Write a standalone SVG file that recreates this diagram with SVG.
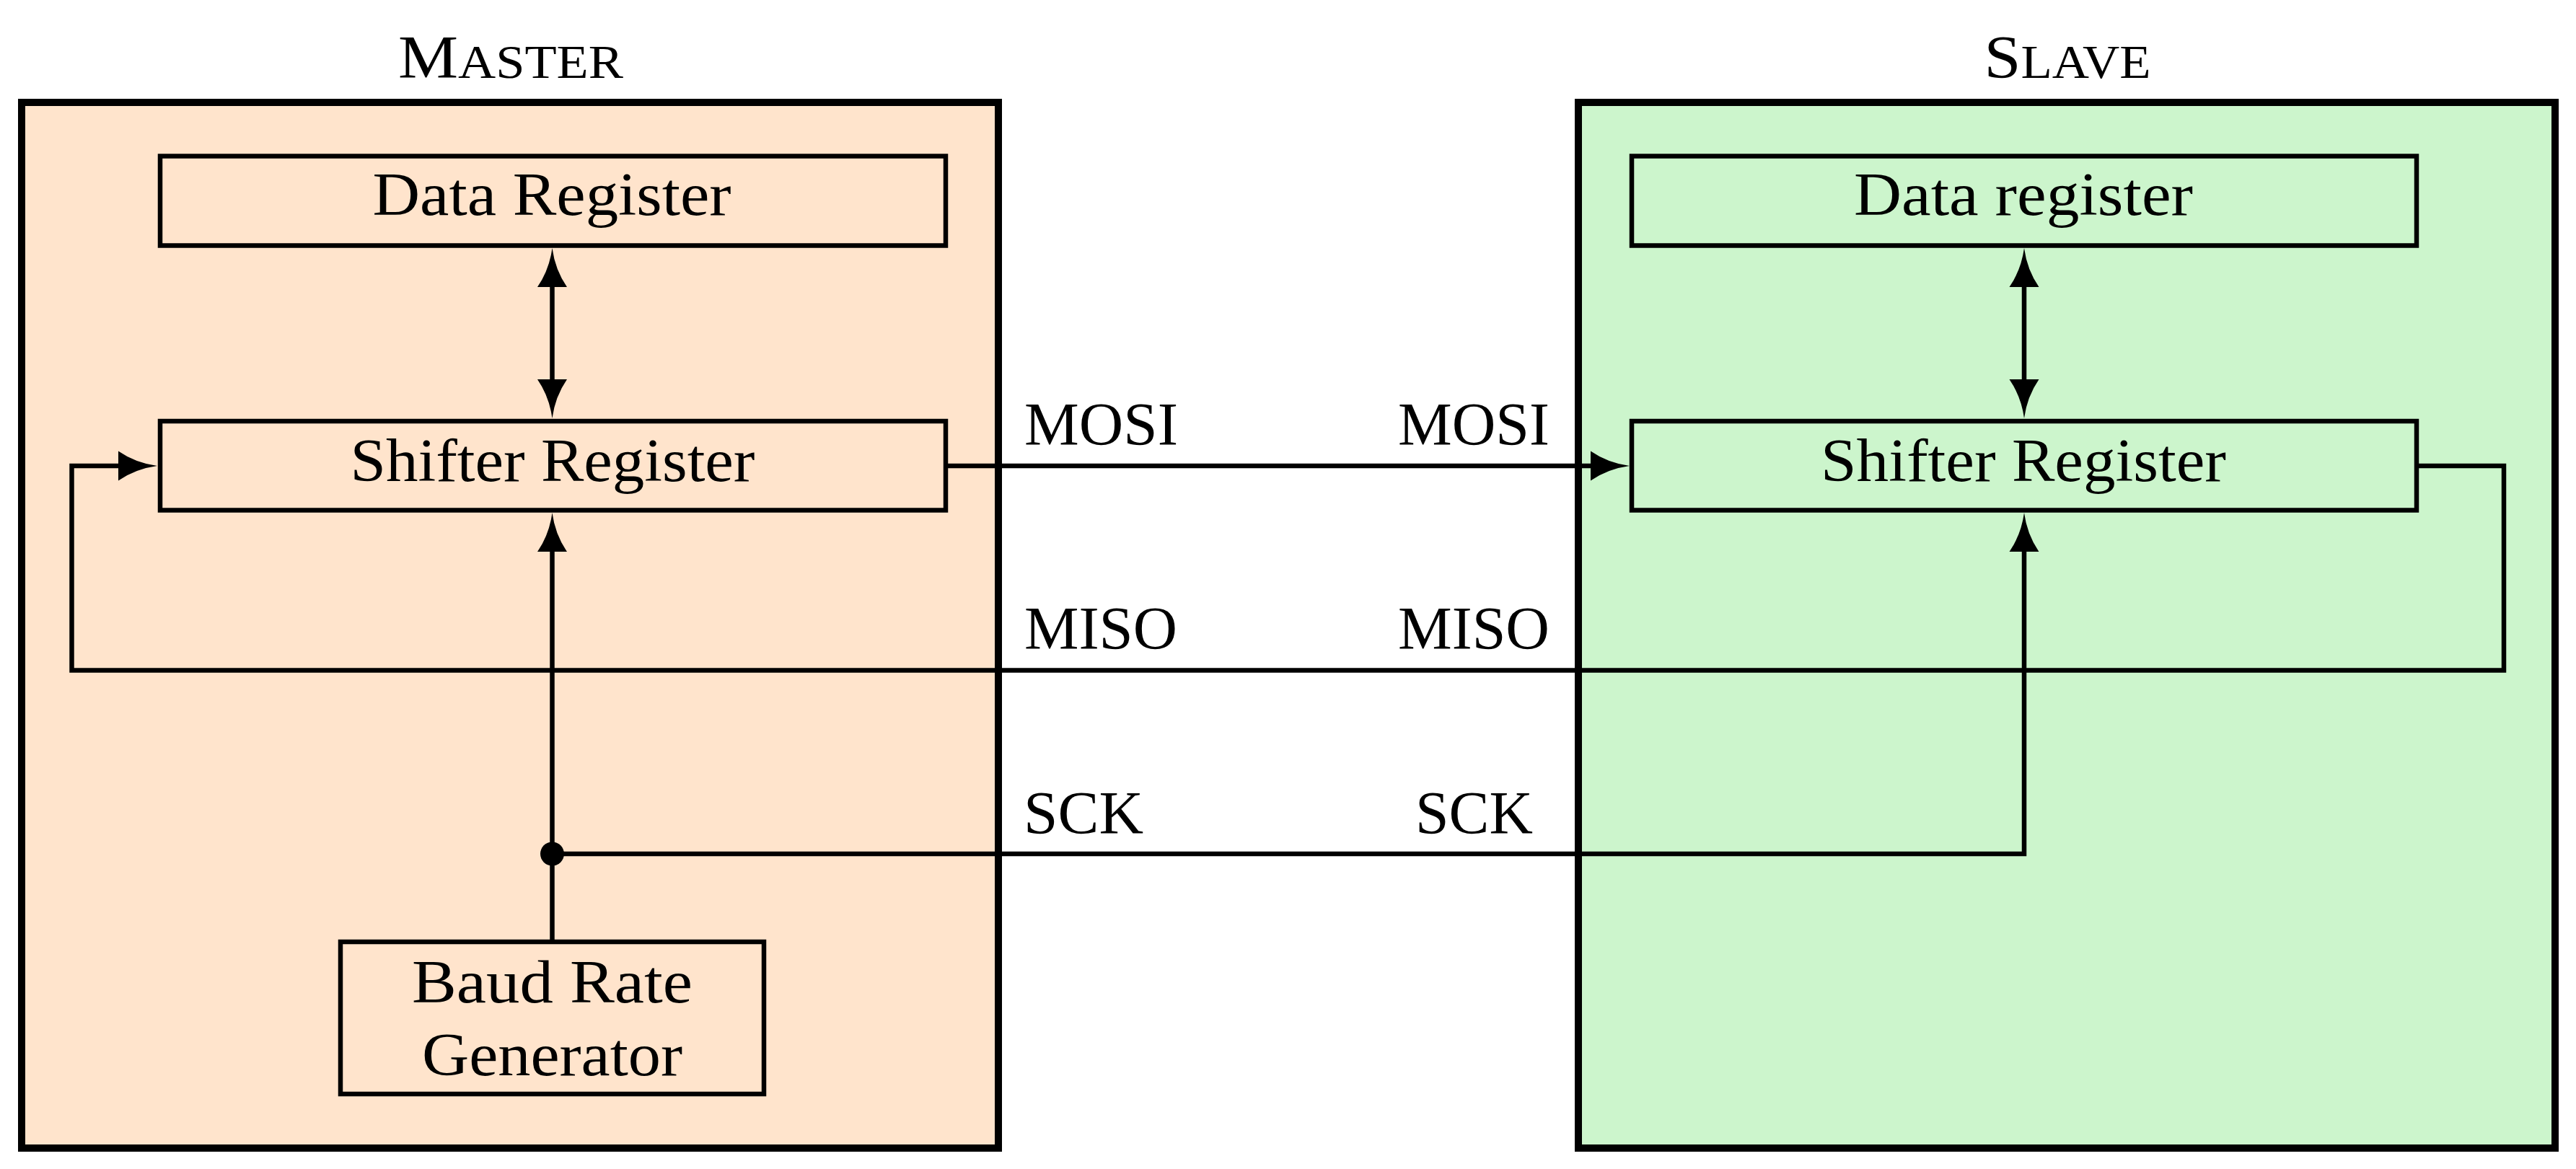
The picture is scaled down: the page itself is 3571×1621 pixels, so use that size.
<svg xmlns="http://www.w3.org/2000/svg" width="3571" height="1621" viewBox="0 0 3571 1621">
<style>
.bg{fill:#ffffff}
.outer{stroke:#000;stroke-width:10}
.master{fill:#FFE4CC}
.slave{fill:#CCF5CC}
.box{fill:none;stroke:#000;stroke-width:6.5}
.wire{fill:none;stroke:#000;stroke-width:6.5;stroke-linejoin:miter}
text{font-family:"Liberation Serif","Times New Roman",serif;font-size:84px;fill:#000}
.c{text-anchor:middle}
.sc{font-size:65px}
</style>
<defs>
<marker id="arr" markerUnits="userSpaceOnUse" markerWidth="64" markerHeight="48" viewBox="-58 -24 64 48" refX="-50" refY="0" orient="auto-start-reverse" overflow="visible">
<path d="M0,0 Q-30,-4 -54,-20.5 L-54,20.5 Q-30,4 0,0Z" fill="#000"/>
</marker>
</defs>
<rect class="bg" x="0" y="0" width="3571" height="1621"/>

<g id="master">
<rect class="outer master" x="30" y="142" width="1354" height="1450"/>
<text class="c" x="708" y="108" textLength="312" lengthAdjust="spacingAndGlyphs">M<tspan class="sc">ASTER</tspan></text>
</g>
<g id="slave">
<rect class="outer slave" x="2188" y="142" width="1354" height="1450"/>
<text class="c" x="2866" y="108" textLength="231" lengthAdjust="spacingAndGlyphs">S<tspan class="sc">LAVE</tspan></text>
</g>

<g id="master-data-register">
<rect class="box" x="222" y="216.5" width="1089" height="124"/>
<text class="c" x="765" y="298" textLength="497" lengthAdjust="spacingAndGlyphs">Data Register</text>
</g>
<g id="master-shifter-register">
<rect class="box" x="222" y="584" width="1089" height="123.5"/>
<text class="c" x="766" y="667" textLength="561" lengthAdjust="spacingAndGlyphs">Shifter Register</text>
</g>
<g id="baud-rate-generator">
<rect class="box" x="472" y="1306" width="587" height="211"/>
<text class="c" x="765.5" y="1390" textLength="389" lengthAdjust="spacingAndGlyphs">Baud Rate</text>
<text class="c" x="765.5" y="1491" textLength="361" lengthAdjust="spacingAndGlyphs">Generator</text>
</g>
<g id="slave-data-register">
<rect class="box" x="2262" y="216.5" width="1088" height="124"/>
<text class="c" x="2805" y="298" textLength="470" lengthAdjust="spacingAndGlyphs">Data register</text>
</g>
<g id="slave-shifter-register">
<rect class="box" x="2262" y="584" width="1088" height="123.5"/>
<text class="c" x="2805" y="667" textLength="562" lengthAdjust="spacingAndGlyphs">Shifter Register</text>
</g>

<g id="connectors">
<path class="wire" d="M765.5,394 L765.5,530" marker-start="url(#arr)" marker-end="url(#arr)"/>
<path class="wire" d="M2806,394 L2806,530" marker-start="url(#arr)" marker-end="url(#arr)"/>
<path class="wire" d="M1311,646 L2209,646" marker-end="url(#arr)"/>
<path class="wire" d="M3350,646 L3471,646 L3471,929.5 L99.5,929.5 L99.5,646 L168,646" marker-end="url(#arr)"/>
<path class="wire" d="M765.5,1306 L765.5,761" marker-end="url(#arr)"/>
<path class="wire" d="M765.5,1184 L2806,1184 L2806,761" marker-end="url(#arr)"/>
<circle cx="765.5" cy="1184" r="16.5" fill="#000"/>
</g>

<g id="labels">
<text x="1420" y="617" textLength="213" lengthAdjust="spacingAndGlyphs">MOSI</text>
<text class="c" x="2043" y="617" textLength="210" lengthAdjust="spacingAndGlyphs">MOSI</text>
<text x="1420" y="900" textLength="212" lengthAdjust="spacingAndGlyphs">MISO</text>
<text class="c" x="2043" y="900" textLength="210" lengthAdjust="spacingAndGlyphs">MISO</text>
<text x="1419" y="1156" textLength="166" lengthAdjust="spacingAndGlyphs">SCK</text>
<text class="c" x="2043.5" y="1156" textLength="163" lengthAdjust="spacingAndGlyphs">SCK</text>
</g>
</svg>
